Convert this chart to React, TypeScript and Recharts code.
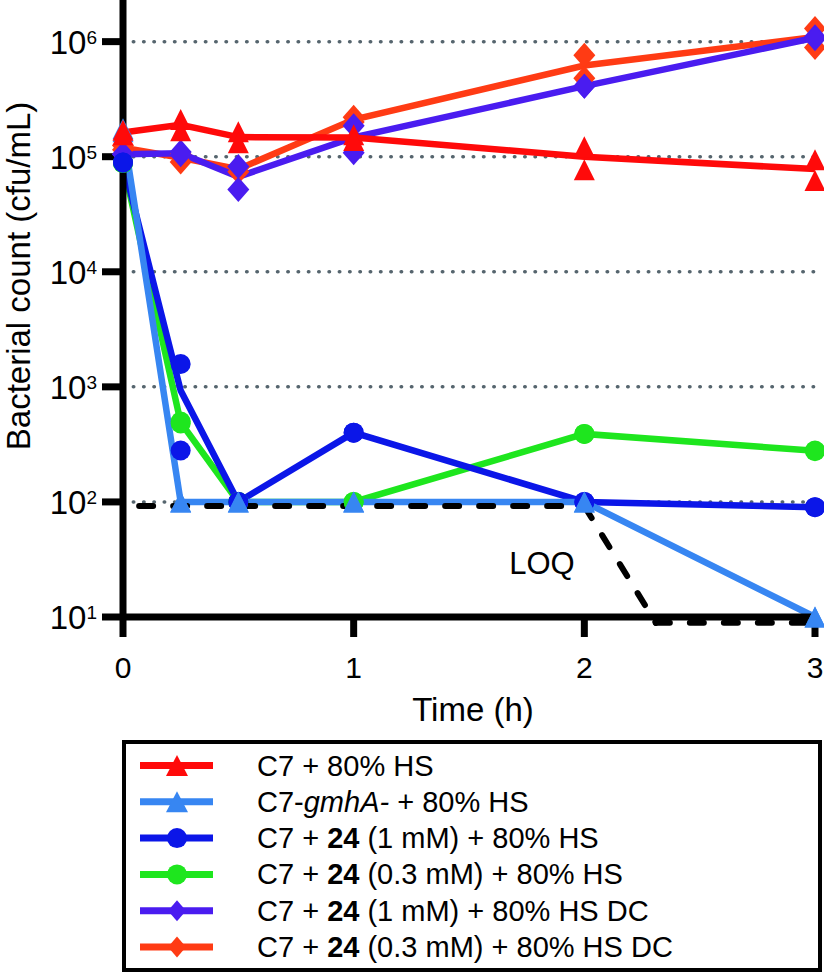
import { ComposedChart, Line, Scatter, XAxis, YAxis, ReferenceLine, Label } from "recharts";

const FONT = '"Liberation Sans", Arial, Helvetica, sans-serif';

// sampling times (h)
const times = [0, 0.25, 0.5, 1, 2, 3];

// C7 + 80% HS
const hsMean = [1.62e5, 1.89e5, 1.48e5, 1.47e5, 1.0e5, 7.8e4];
const hsRepA = [1.7e5, 2.1e5, 1.65e5, 1.55e5, 1.22e5, 9.4e4];
const hsRepB = [1.55e5, 1.68e5, 1.32e5, 1.38e5, 7.7e4, 6.2e4];

// C7-gmhA- + 80% HS
const gmhMean = [1.7e5, 100, 100, 100, 100, 10];
const gmhRepA = [1.75e5, 100, 100, 100, 100, 10];
const gmhRepB = [1.65e5, 100, 100, 100, 100, 10];

// C7 + 24 (1 mM) + 80% HS
const c1Mean = [8.9e4, 930, 100, 400, 100, 90];
const c1RepA = [8.9e4, 1580, 100, 400, 100, 90];
const c1RepB = [8.9e4, 280, 100, 400, 100, 90];

// C7 + 24 (0.3 mM) + 80% HS
const c03Mean = [8.8e4, 490, 100, 100, 390, 278];
const c03RepA = [8.8e4, 500, 100, 100, 390, 280];
const c03RepB = [8.8e4, 480, 100, 100, 390, 276];

// C7 + 24 (1 mM) + 80% HS DC
const dc1Mean = [1.05e5, 1.07e5, 6.7e4, 1.47e5, 4.1e5, 1.08e6];
const dc1RepA = [1.05e5, 1.1e5, 8.2e4, 1.86e5, 4.1e5, 1.1e6];
const dc1RepB = [1.05e5, 1.04e5, 5.2e4, 1.08e5, 4.1e5, 1.06e6];

// C7 + 24 (0.3 mM) + 80% HS DC
const dc03Mean = [1.2e5, 9.8e4, 7.8e4, 2.1e5, 6.2e5, 1.1e6];
const dc03RepA = [1.25e5, 1.05e5, 8.0e4, 2.2e5, 7.6e5, 1.3e6];
const dc03RepB = [1.15e5, 9.0e4, 7.4e4, 2.0e5, 4.8e5, 8.9e5];

// limit of quantification
const loqT = [0.07, 2, 2.31, 3];
const loqV = [92, 92, 8.9, 8.9];

const yTicks = [10, 100, 1e3, 1e4, 1e5, 1e6];
const gridValues = [100, 1e3, 1e4, 1e5, 1e6];
const xTicks = [0, 1, 2, 3];

type Pt = { t: number; v: number };
const pts = (vals: number[]): Pt[] => vals.map((v, i) => ({ t: times[i], v }));

type Kind = "triangle" | "circle" | "diamond";

const Marker = ({ kind, cx, cy, color, w, h }: { kind: Kind; cx: number; cy: number; color: string; w: number; h: number }) => {
  if (kind === "circle") return <circle cx={cx} cy={cy} r={w / 2} fill={color} />;
  if (kind === "triangle")
    return <polygon points={`${cx},${cy - h / 2} ${cx + w / 2},${cy + h / 2} ${cx - w / 2},${cy + h / 2}`} fill={color} />;
  return <polygon points={`${cx},${cy - h / 2} ${cx + w / 2},${cy} ${cx},${cy + h / 2} ${cx - w / 2},${cy}`} fill={color} />;
};

const sizes: Record<Kind, [number, number]> = { triangle: [21, 21], circle: [20, 20], diamond: [22, 25] };

// drawing order, bottom to top
const series = [
  { key: "dc03", color: "#ff3b14", kind: "diamond" as Kind, mean: dc03Mean, reps: [dc03RepA, dc03RepB] },
  { key: "dc1", color: "#4a1cf0", kind: "diamond" as Kind, mean: dc1Mean, reps: [dc1RepA, dc1RepB] },
  { key: "c03", color: "#1ee61e", kind: "circle" as Kind, mean: c03Mean, reps: [c03RepA, c03RepB] },
  { key: "c1", color: "#0b16e8", kind: "circle" as Kind, mean: c1Mean, reps: [c1RepA, c1RepB] },
  { key: "gmh", color: "#3786f2", kind: "triangle" as Kind, mean: gmhMean, reps: [gmhRepA, gmhRepB] },
  { key: "hs", color: "#ff0a0a", kind: "triangle" as Kind, mean: hsMean, reps: [hsRepA, hsRepB] },
];

const legendRows = [
  { color: "#ff0a0a", kind: "triangle" as Kind, parts: [["C7 + 80% HS", ""]] },
  { color: "#3786f2", kind: "triangle" as Kind, parts: [["C7-", ""], ["gmhA-", "i"], [" + 80% HS", ""]] },
  { color: "#0b16e8", kind: "circle" as Kind, parts: [["C7 + ", ""], ["24", "b"], [" (1 mM) + 80% HS", ""]] },
  { color: "#1ee61e", kind: "circle" as Kind, parts: [["C7 + ", ""], ["24", "b"], [" (0.3 mM) + 80% HS", ""]] },
  { color: "#4a1cf0", kind: "diamond" as Kind, parts: [["C7 + ", ""], ["24", "b"], [" (1 mM) + 80% HS DC", ""]] },
  { color: "#ff3b14", kind: "diamond" as Kind, parts: [["C7 + ", ""], ["24", "b"], [" (0.3 mM) + 80% HS DC", ""]] },
];

const YTick = ({ x, y, payload }: any) => {
  const exp = Math.round(Math.log10(payload.value));
  return (
    <text x={x} y={y + 12} textAnchor="end" fontFamily={FONT} fontSize={33} fill="#000">
      10
      <tspan dy={-10} fontSize={19}>
        {exp}
      </tspan>
    </text>
  );
};

const XTick = ({ x, y, payload }: any) => (
  <text x={x} y={y + 21} textAnchor="middle" fontFamily={FONT} fontSize={30} fill="#000">
    {payload.value}
  </text>
);

const legendMarkerSize: Record<Kind, [number, number]> = { triangle: [22, 21], circle: [20, 20], diamond: [18, 21] };

const LegendBox = () => (
  <div
    style={{
      position: "absolute",
      left: 122,
      top: 740,
      width: 700,
      height: 232,
      border: "4px solid #000",
      boxSizing: "border-box",
    }}
  >
    <svg width={692} height={224} style={{ display: "block" }}>
      {legendRows.map((row, i) => {
        const cy = 21.5 + i * 36.3;
        const [w, h] = legendMarkerSize[row.kind];
        return (
          <g key={i}>
            <line x1={14} x2={87} y1={cy} y2={cy} stroke={row.color} strokeWidth={7} />
            <Marker kind={row.kind} cx={51} cy={cy} color={row.color} w={w} h={h} />
            <text x={131} y={cy + 10} fontFamily={FONT} fontSize={29} fill="#000">
              {row.parts.map(([s, st], j) => (
                <tspan key={j} fontWeight={st === "b" ? "bold" : "normal"} fontStyle={st === "i" ? "italic" : "normal"}>
                  {s}
                </tspan>
              ))}
            </text>
          </g>
        );
      })}
    </svg>
  </div>
);

export default function App() {
  return (
    <div style={{ position: "relative", width: 824, height: 974, background: "#fff" }}>
      <style>{"body{margin:0}"}</style>
      <ComposedChart width={824} height={974} margin={{ top: 0, right: 9, bottom: 237, left: 0 }}>
        <XAxis
          type="number"
          dataKey="t"
          domain={[0, 3]}
          ticks={xTicks}
          interval={0}
          height={120}
          tickSize={20}
          tickMargin={20}
          axisLine={{ stroke: "#000", strokeWidth: 7 }}
          tickLine={{ stroke: "#000", strokeWidth: 7 }}
          tick={<XTick />}
        >
          <Label
            content={() => (
              <text x={473} y={721} textAnchor="middle" fontFamily={FONT} fontSize={33} fill="#000">
                Time (h)
              </text>
            )}
          />
        </XAxis>
        <YAxis
          type="number"
          scale="log"
          domain={[10, 2.3e6]}
          ticks={yTicks}
          interval={0}
          width={123}
          tickSize={21}
          tickMargin={5}
          axisLine={{ stroke: "#000", strokeWidth: 7 }}
          tickLine={{ stroke: "#000", strokeWidth: 7 }}
          tick={<YTick />}
        >
          <Label
            content={() => (
              <text
                x={18}
                y={276}
                transform="rotate(-90, 18, 276)"
                textAnchor="middle"
                dominantBaseline="central"
                fontFamily={FONT}
                fontSize={33}
                fill="#000"
              >
                Bacterial count (cfu/mL)
              </text>
            )}
          />
        </YAxis>
        {gridValues.map((v) => (
          <ReferenceLine
            key={"g" + v}
            y={v}
            stroke="#56656e"
            strokeWidth={3.5}
            strokeDasharray="0.5 9.8"
            strokeLinecap="round"
          />
        ))}
        {series.flatMap((s) => [
          <Line
            key={s.key + "-line"}
            data={pts(s.mean)}
            dataKey="v"
            stroke={s.color}
            strokeWidth={6.5}
            dot={false}
            activeDot={false}
            isAnimationActive={false}
          />,
          <Scatter
            key={s.key + "-pts"}
            data={[...pts(s.reps[0]), ...pts(s.reps[1])]}
            dataKey="v"
            isAnimationActive={false}
            shape={(p: any) => (
              <Marker kind={s.kind} cx={p.cx} cy={p.cy} color={s.color} w={sizes[s.kind][0]} h={sizes[s.kind][1]} />
            )}
          />,
        ])}
        {loqT.slice(0, -1).map((t, i) => (
          <ReferenceLine
            key={"loq" + i}
            segment={[
              { x: t, y: loqV[i] },
              { x: loqT[i + 1], y: loqV[i + 1] },
            ]}
            stroke="#000"
            strokeWidth={6}
            strokeDasharray="14 20"
            strokeLinecap="round"
            ifOverflow="visible"
          />
        ))}
      </ComposedChart>
      <svg style={{ position: "absolute", left: 0, top: 0, pointerEvents: "none" }} width={824} height={974}>
        <text x={542} y={574} textAnchor="middle" fontFamily={FONT} fontSize={31} fill="#000">
          LOQ
        </text>
      </svg>
      <LegendBox />
    </div>
  );
}
